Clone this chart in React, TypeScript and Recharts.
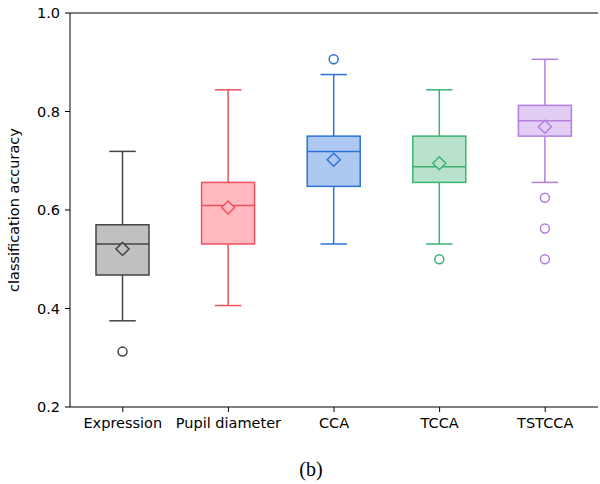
import React from 'react';
import { BarChart, Bar, XAxis, YAxis, ReferenceLine } from 'recharts';

const categories = ['Expression', 'Pupil diameter', 'CCA', 'TCCA', 'TSTCCA'];
const whiskerLow = [0.375, 0.406, 0.531, 0.531, 0.656];
const q1 = [0.468, 0.531, 0.648, 0.656, 0.75];
const median = [0.531, 0.609, 0.719, 0.688, 0.781];
const q3 = [0.57, 0.656, 0.75, 0.75, 0.8125];
const whiskerHigh = [0.719, 0.844, 0.875, 0.844, 0.906];
const means = [0.521, 0.605, 0.702, 0.695, 0.769];
const outliers: number[][] = [[0.3125], [], [0.906], [0.5], [0.625, 0.5625, 0.5]];
const yTicks = [0.2, 0.4, 0.6, 0.8, 1.0];

const fills = ['#c0c0c0', '#ffbac1', '#aec9f1', '#b8e2cb', '#e2cdf4'];
const edges = ['#444444', '#f0505c', '#2b73d9', '#3cb371', '#b57ede'];

const rows = categories.map((name, i) => {
  const all = [whiskerLow[i], whiskerHigh[i], ...outliers[i]];
  return {
    name,
    range: [Math.min(...all), Math.max(...all)],
    lo: Math.min(...all),
    hi: Math.max(...all),
    i,
  };
});

const BoxShape = (props: any) => {
  const { x, y, width, height, payload } = props;
  const i = payload.i;
  const lo = payload.lo;
  const hi = payload.hi;
  const ppu = height / (hi - lo);
  const Y = (v: number) => y + (hi - v) * ppu;
  const cx = x + width / 2;
  const capHalf = width / 4;
  const edge = edges[i];
  const fill = fills[i];
  const sw = 1.5;
  const d = 6.5;
  const my = Y(means[i]);
  return (
    <g>
      <line x1={cx} x2={cx} y1={Y(whiskerHigh[i])} y2={Y(q3[i])} stroke={edge} strokeWidth={sw} />
      <line x1={cx} x2={cx} y1={Y(q1[i])} y2={Y(whiskerLow[i])} stroke={edge} strokeWidth={sw} />
      <line x1={cx - capHalf} x2={cx + capHalf} y1={Y(whiskerHigh[i])} y2={Y(whiskerHigh[i])} stroke={edge} strokeWidth={sw} />
      <line x1={cx - capHalf} x2={cx + capHalf} y1={Y(whiskerLow[i])} y2={Y(whiskerLow[i])} stroke={edge} strokeWidth={sw} />
      <rect x={x} y={Y(q3[i])} width={width} height={Y(q1[i]) - Y(q3[i])} fill={fill} stroke={edge} strokeWidth={sw} />
      <line x1={x} x2={x + width} y1={Y(median[i])} y2={Y(median[i])} stroke={edge} strokeWidth={sw} />
      <path d={`M${cx},${my - d} L${cx + d},${my} L${cx},${my + d} L${cx - d},${my} Z`} fill={fill} stroke={edge} strokeWidth={sw} />
      {outliers[i].map((v, k) => (
        <circle key={k} cx={cx} cy={Y(v)} r={4.5} fill="none" stroke={edge} strokeWidth={sw} />
      ))}
    </g>
  );
};

const tickFont = { fontFamily: 'DejaVu Sans', fontSize: 14.5, fill: '#000' };

export default function App() {
  return (
    <div style={{ position: 'absolute', left: 0, top: 0, width: 600, height: 484, background: '#fff' }}>
      <BarChart width={600} height={484} data={rows} margin={{ top: 13, right: 2, bottom: 47, left: 10 }}>
        <XAxis
          dataKey="name"
          height={30}
          tick={tickFont}
          tickSize={5}
          tickMargin={6}
          stroke="#000"
          axisLine={{ stroke: '#000' }}
          tickLine={{ stroke: '#000' }}
        />
        <YAxis
          type="number"
          domain={[0.2, 1.0]}
          ticks={yTicks}
          tickFormatter={(v: number) => v.toFixed(1)}
          width={60}
          tick={tickFont}
          tickSize={5}
          tickMargin={5}
          axisLine={{ stroke: '#000' }}
          tickLine={{ stroke: '#000' }}
          label={{
            value: 'classification accuracy',
            angle: -90,
            position: 'insideLeft',
            offset: 0,
            dx: 4,
            style: { fontFamily: 'DejaVu Sans', fontSize: 14.5, fill: '#000', textAnchor: 'middle' },
          }}
        />
        <YAxis yAxisId="right" orientation="right" type="number" domain={[0.2, 1.0]} width={0} tick={false} tickLine={false} axisLine={{ stroke: '#000' }} />
        <ReferenceLine y={1.0} stroke="#000" strokeWidth={1} ifOverflow="visible" />
        <Bar dataKey="range" barSize={53} isAnimationActive={false} shape={(p: any) => <BoxShape {...p} />} />
      </BarChart>
      <div
        style={{
          position: 'absolute',
          left: 311,
          top: 457,
          transform: 'translateX(-50%)',
          fontFamily: 'Liberation Serif',
          fontSize: 20,
          lineHeight: '24px',
          color: '#000',
          whiteSpace: 'nowrap',
        }}
      >
        (b)
      </div>
    </div>
  );
}
